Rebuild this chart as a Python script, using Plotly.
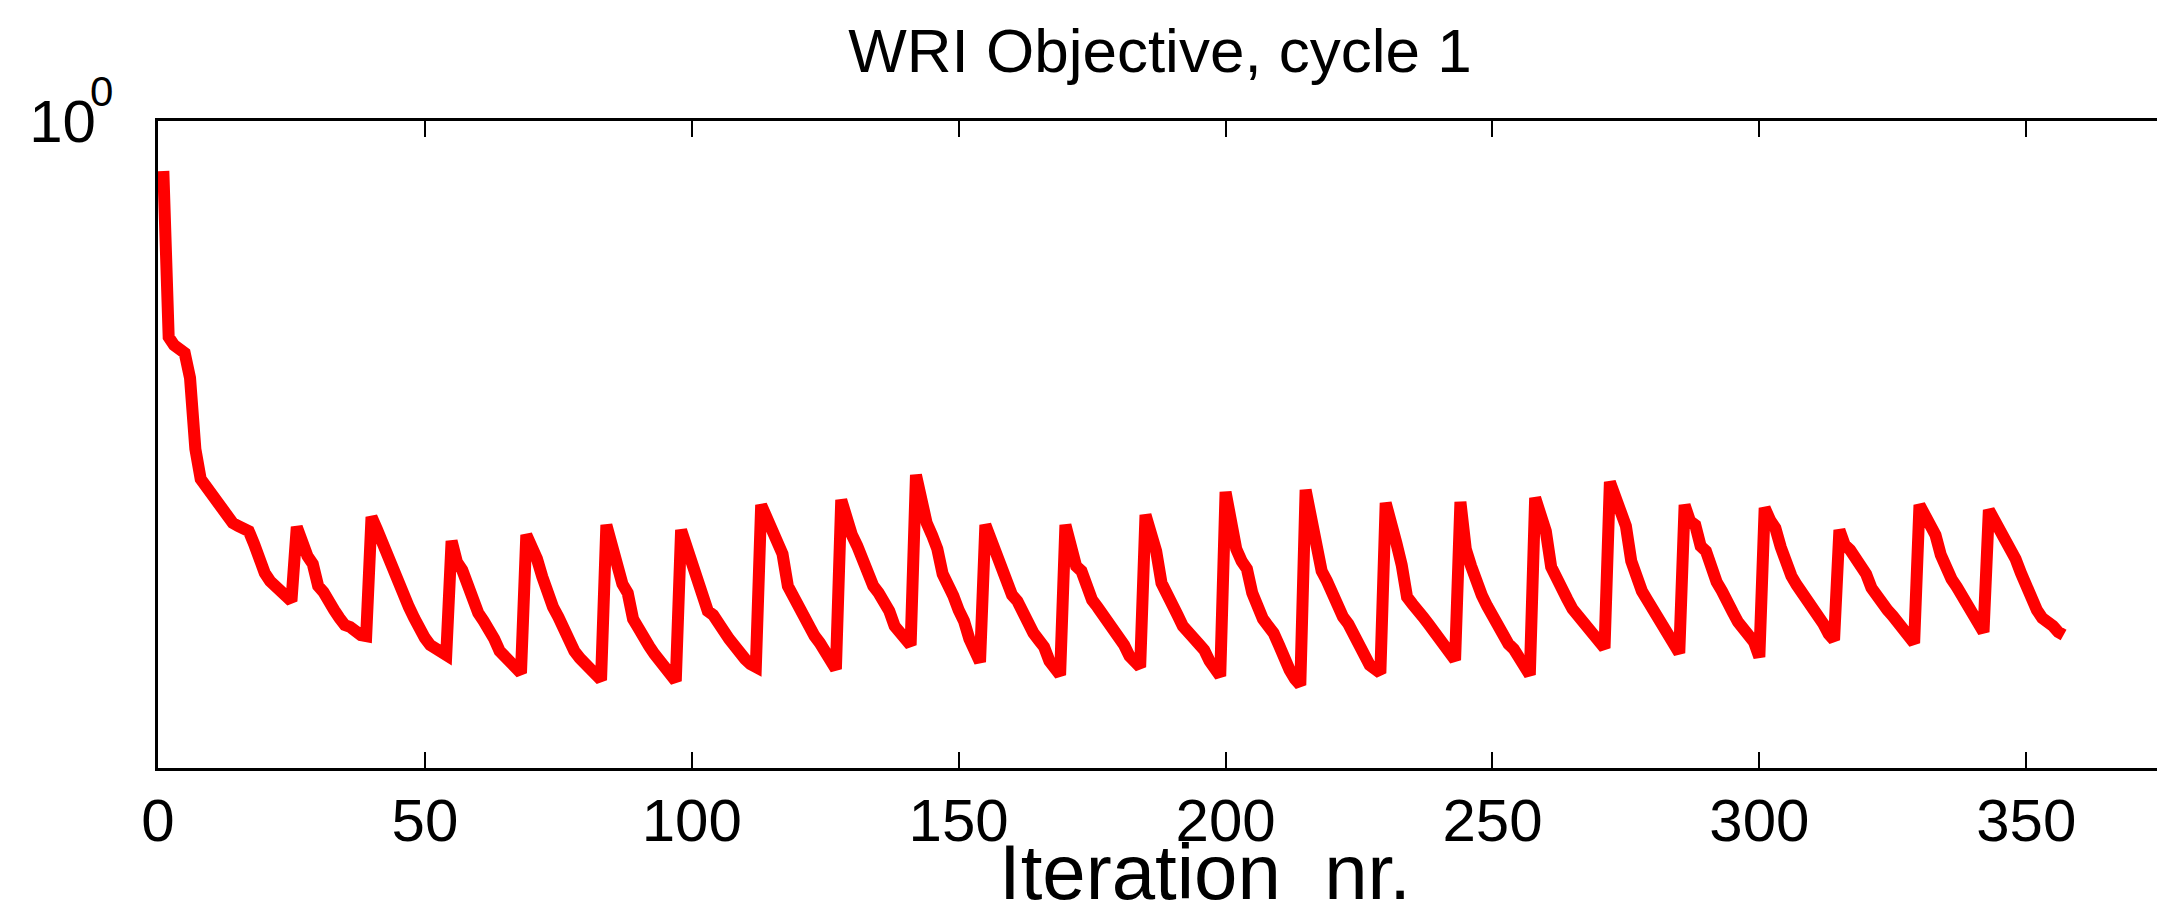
import plotly.graph_objects as go

# WRI objective per iteration
objective = [
    0.8913, 0.6081, 0.5970, 0.5929, 0.5861, 0.5534, 0.4699, 0.4385, 0.4305, 0.4227,
    0.4178, 0.4093, 0.3990, 0.3963, 0.3936, 0.3917, 0.3890, 0.3776, 0.3622, 0.3532,
    0.3467, 0.3428, 0.3412, 0.3365, 0.3311, 0.3926, 0.3758, 0.3673, 0.3606, 0.3428,
    0.3381, 0.3296, 0.3243, 0.3184, 0.3133, 0.3119, 0.3076, 0.3062, 0.3055, 0.4018,
    0.3908, 0.3784, 0.3664, 0.3556, 0.3483, 0.3373, 0.3266, 0.3184, 0.3090, 0.3041,
    0.2992, 0.2965, 0.2938, 0.2924, 0.3802, 0.3622, 0.3556, 0.3444, 0.3281, 0.3221,
    0.3162, 0.3105, 0.3034, 0.2951, 0.2911, 0.2877, 0.2838, 0.2805, 0.3855, 0.3758,
    0.3648, 0.3500, 0.3357, 0.3266, 0.3192, 0.3090, 0.3034, 0.2951, 0.2904, 0.2871,
    0.2838, 0.2799, 0.2761, 0.3945, 0.3750, 0.3589, 0.3444, 0.3373, 0.3177, 0.3112,
    0.3034, 0.2985, 0.2931, 0.2877, 0.2831, 0.2805, 0.2754, 0.3899, 0.3758, 0.3622,
    0.3475, 0.3311, 0.3236, 0.3206, 0.3162, 0.3090, 0.3034, 0.2979, 0.2931, 0.2897,
    0.2864, 0.2845, 0.4130, 0.3999, 0.3873, 0.3811, 0.3690, 0.3428, 0.3342, 0.3251,
    0.3184, 0.3119, 0.3055, 0.3006, 0.2944, 0.2891, 0.2831, 0.4178, 0.3990, 0.3855,
    0.3758, 0.3622, 0.3540, 0.3428, 0.3373, 0.3319, 0.3236, 0.3126, 0.3076, 0.3020,
    0.2992, 0.4426, 0.4150, 0.3963, 0.3855, 0.3733, 0.3524, 0.3451, 0.3350, 0.3243,
    0.3162, 0.3034, 0.2972, 0.2877, 0.3945, 0.3819, 0.3724, 0.3614, 0.3508, 0.3357,
    0.3311, 0.3221, 0.3141, 0.3076, 0.3027, 0.2979, 0.2884, 0.2845, 0.2793, 0.3945,
    0.3758, 0.3589, 0.3548, 0.3388, 0.3319, 0.3266, 0.3206, 0.3162, 0.3119, 0.3069,
    0.2992, 0.2917, 0.2871, 0.2845, 0.4037, 0.3873, 0.3715, 0.3451, 0.3350, 0.3281,
    0.3206, 0.3126, 0.3069, 0.3041, 0.2999, 0.2958, 0.2884, 0.2818, 0.2786, 0.4256,
    0.3981, 0.3733, 0.3631, 0.3565, 0.3373, 0.3251, 0.3177, 0.3126, 0.3076, 0.2992,
    0.2877, 0.2825, 0.2767, 0.2729, 0.4276, 0.3963, 0.3715, 0.3548, 0.3467, 0.3357,
    0.3236, 0.3192, 0.3141, 0.3076, 0.2972, 0.2924, 0.2858, 0.2831, 0.2805, 0.4150,
    0.3908, 0.3784, 0.3597, 0.3342, 0.3289, 0.3251, 0.3192, 0.3141, 0.3090, 0.3034,
    0.2972, 0.2917, 0.2891, 0.4159, 0.3733, 0.3589, 0.3444, 0.3357, 0.3273, 0.3199,
    0.3112, 0.3048, 0.2999, 0.2965, 0.2897, 0.2845, 0.2793, 0.4198, 0.4046, 0.3890,
    0.3581, 0.3483, 0.3373, 0.3327, 0.3251, 0.3199, 0.3170, 0.3105, 0.3048, 0.3006,
    0.2972, 0.4355, 0.4188, 0.4064, 0.3936, 0.3631, 0.3475, 0.3388, 0.3319, 0.3251,
    0.3184, 0.3105, 0.3027, 0.2979, 0.2938, 0.4130, 0.3981, 0.3945, 0.3758, 0.3715,
    0.3573, 0.3459, 0.3388, 0.3281, 0.3228, 0.3155, 0.3097, 0.3055, 0.3013, 0.2911,
    0.4102, 0.3990, 0.3917, 0.3750, 0.3614, 0.3508, 0.3436, 0.3381, 0.3304, 0.3258,
    0.3199, 0.3141, 0.3069, 0.3027, 0.3899, 0.3767, 0.3724, 0.3656, 0.3581, 0.3524,
    0.3412, 0.3342, 0.3296, 0.3243, 0.3199, 0.3141, 0.3090, 0.3048, 0.3006, 0.4130,
    0.4037, 0.3926, 0.3855, 0.3681, 0.3556, 0.3483, 0.3420, 0.3357, 0.3281, 0.3221,
    0.3155, 0.3083, 0.4083, 0.3999, 0.3899, 0.3802, 0.3724, 0.3648, 0.3532, 0.3436,
    0.3289, 0.3243, 0.3184, 0.3162, 0.3126, 0.3083, 0.3062,
]
iterations = list(range(1, len(objective) + 1))

x_ticks = [0, 50, 100, 150, 200, 250, 300, 350]
y_ticks = [1]
y_tick_text = ["10"]
y_tick_exponent = "0"

FONT = "Liberation Sans, Arial, Helvetica, sans-serif"

# plot area in pixels (figure is 2157 x 915)
L, R, T, B = 158, 2157, 121, 768

fig = go.Figure()
fig.add_trace(go.Scatter(
    x=iterations,
    y=objective,
    mode="lines",
    line=dict(color="#ff0000", width=12),
    showlegend=False,
))

fig.update_layout(
    width=2157,
    height=915,
    margin=dict(l=L, r=2157 - R, t=T, b=915 - B),
    paper_bgcolor="white",
    plot_bgcolor="white",
    font=dict(family=FONT, size=60, color="black"),
    title=dict(
        text="WRI Objective, cycle 1",
        font=dict(family=FONT, size=62, color="black"),
        x=1160 / 2157, xref="container", xanchor="center",
        y=1 - 50 / 915, yref="container", yanchor="middle",
    ),
    showlegend=False,
)

fig.update_xaxes(
    range=[0, 374.5],
    tickvals=x_ticks,
    ticks="inside",
    ticklen=16,
    tickwidth=2,
    tickcolor="black",
    showline=True,
    linewidth=3,
    linecolor="black",
    mirror="ticks",
    showgrid=False,
    zeroline=False,
    automargin=False,
    tickfont=dict(size=60),
    ticklabelstandoff=-2,
)

fig.update_yaxes(
    type="log",
    range=[-0.647, 0],
    tickvals=y_ticks,
    ticktext=y_tick_text,
    ticks="inside",
    ticklen=16,
    tickwidth=2,
    tickcolor="black",
    showline=True,
    linewidth=3,
    linecolor="black",
    mirror=False,
    showgrid=False,
    zeroline=False,
    automargin=False,
    tickfont=dict(size=60),
    ticklabelstandoff=47,
)

# exponent of the 10^0 tick label
fig.add_annotation(
    text=y_tick_exponent,
    x=(101 - L) / (R - L), xref="paper",
    y=(B - 91) / (B - T), yref="paper",
    showarrow=False,
    font=dict(family=FONT, size=42, color="black"),
    xanchor="center", yanchor="middle",
)

# x axis label
fig.add_annotation(
    text="Iteration\u00a0 nr.",
    x=(1205 - L) / (R - L), xref="paper",
    y=-(872 - B) / (B - T), yref="paper",
    showarrow=False,
    font=dict(family=FONT, size=78, color="black"),
    xanchor="center", yanchor="middle",
)

fig.write_html(
    "out.html",
    config={"displayModeBar": False},
    post_script="document.body.style.margin='0px';",
)
